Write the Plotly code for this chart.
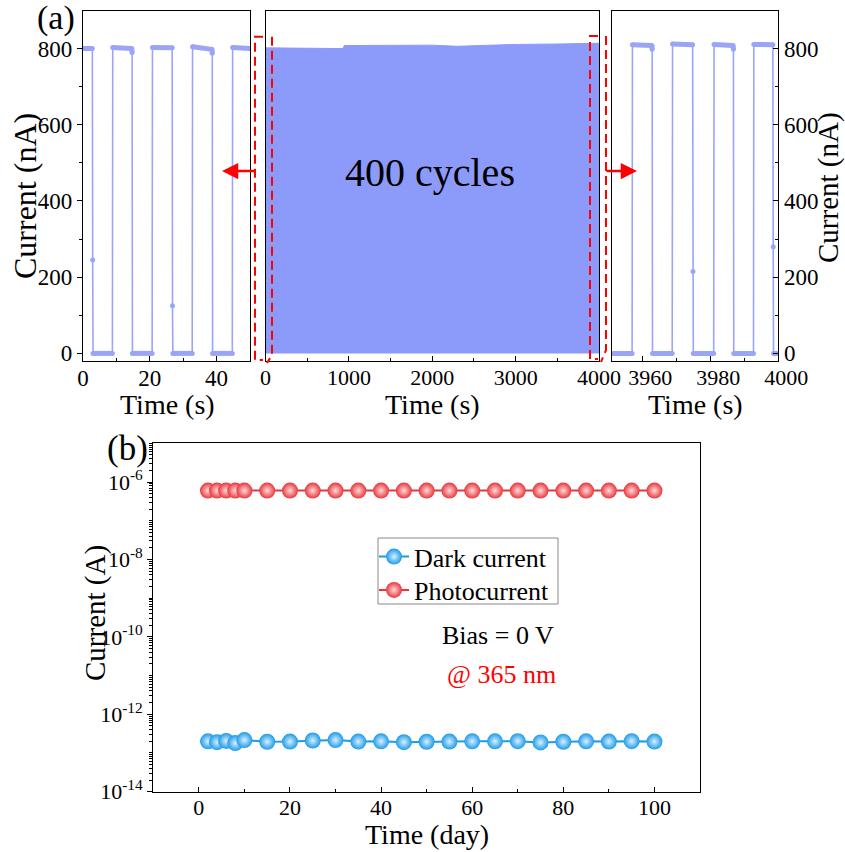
import plotly.graph_objects as go

# ---------------- data ----------------
# (a) left panel: first cycles
t_start = [0, 2.8, 2.9, 3.0, 8.8, 8.9, 14.6, 14.7, 14.8, 20.7, 20.8, 26.7, 26.8, 26.9,
           32.7, 32.8, 38.6, 38.7, 38.8, 44.7, 44.8, 50]
i_start = [800, 800, 245, 0, 0, 803, 800, 790, 0, 0, 803, 802, 125, 0,
           0, 805, 798, 788, 0, 0, 803, 800]

# (a) middle panel: envelope of 400 cycles
t_all = [0, 930, 945, 1500, 2000, 2300, 2600, 3000, 3500, 4000]
i_all = [802, 800, 808, 808, 809, 806, 808, 811, 812, 814]

# (a) right panel: last cycles
t_end = [3951, 3957.0, 3957.1, 3962.8, 3962.9, 3963.0, 3968.8, 3968.9, 3974.8, 3974.9, 3975.0,
         3981.0, 3981.1, 3986.7, 3986.8, 3986.9, 3992.7, 3992.8, 3998.4, 3998.5, 3998.6, 4000]
i_end = [0, 0, 810, 808, 798, 0, 0, 812, 810, 215, 0,
         0, 811, 808, 798, 0, 0, 811, 810, 280, 0, 0]

# (b) stability over days
days = [2, 4, 6, 8, 10, 15, 20, 25, 30, 35, 40, 45, 50, 55, 60, 65, 70, 75, 80, 85, 90, 95, 100]
dark = [2.0e-13, 1.9e-13, 2.05e-13, 1.8e-13, 2.15e-13, 1.95e-13, 1.97e-13, 2.1e-13, 2.15e-13,
        1.97e-13, 2.0e-13, 1.9e-13, 1.95e-13, 1.97e-13, 2.0e-13, 2.0e-13, 2.02e-13, 1.88e-13,
        1.95e-13, 2.0e-13, 1.97e-13, 2.02e-13, 1.97e-13]
photo = [6.0e-7] * len(days)
log_tickvals = [1e-14, 1e-12, 1e-10, 1e-8, 1e-6]
log_ticktext = ["10<sup>-14</sup>", "10<sup>-12</sup>", "10<sup>-10</sup>", "10<sup>-8</sup>", "10<sup>-6</sup>"]

# ---------------- style ----------------
W, H = 845, 852
FONT = "Liberation Serif, Times New Roman, serif"
LINE_C = "#9AA5F6"
FILL_C = "#8C9BFA"
RED = "#E8373C"
BLUE = "#1D9BE8"


def px(x):
    return x / W


def py(y):
    return 1 - y / H


def plateaus(t, v):
    xs, ys = [], []
    for k in range(len(t) - 1):
        if abs(v[k] - v[k + 1]) < 15:
            xs += [t[k], t[k + 1], None]
            ys += [v[k], v[k + 1], None]
    return xs, ys


fig = go.Figure()

# left panel
pxs, pys = plateaus(t_start, i_start)
fig.add_trace(go.Scatter(x=t_start, y=i_start, mode="lines+markers", xaxis="x", yaxis="y",
                         line=dict(color=LINE_C, width=1.6), marker=dict(size=5, color=LINE_C),
                         showlegend=False))
fig.add_trace(go.Scatter(x=pxs, y=pys, mode="lines", xaxis="x", yaxis="y",
                         line=dict(color=LINE_C, width=5), showlegend=False, hoverinfo="skip"))

# middle panel
fig.add_trace(go.Scatter(x=t_all, y=i_all, mode="lines", fill="tozeroy", xaxis="x2", yaxis="y2",
                         line=dict(color=FILL_C, width=1), fillcolor=FILL_C, showlegend=False))

# right panel
pxs, pys = plateaus(t_end, i_end)
fig.add_trace(go.Scatter(x=t_end, y=i_end, mode="lines+markers", xaxis="x3", yaxis="y3",
                         line=dict(color=LINE_C, width=1.6), marker=dict(size=5, color=LINE_C),
                         showlegend=False))
fig.add_trace(go.Scatter(x=pxs, y=pys, mode="lines", xaxis="x3", yaxis="y3",
                         line=dict(color=LINE_C, width=5), showlegend=False, hoverinfo="skip"))

# bottom panel
fig.add_trace(go.Scatter(x=days, y=dark, mode="lines+markers", name="Dark current", xaxis="x4", yaxis="y4",
                         legend="legend",
                         line=dict(color=BLUE, width=2),
                         marker=dict(size=16, color=BLUE, line=dict(width=0),
                                     gradient=dict(type="radial", color="#D8F0FF"))))
fig.add_trace(go.Scatter(x=days, y=photo, mode="lines+markers", name="Photocurrent", xaxis="x4", yaxis="y4",
                         legend="legend2",
                         line=dict(color=RED, width=2),
                         marker=dict(size=16, color=RED, line=dict(width=0),
                                     gradient=dict(type="radial", color="#FFDADA"))))

TICKSZ = 23
axis_common = dict(showline=True, linecolor="black", linewidth=1.3, mirror=True, showgrid=False,
                   zeroline=False, automargin=False, tickcolor="black", ticklen=5, tickwidth=1.2,
                   tickfont=dict(family=FONT, size=TICKSZ, color="black"))
xt_common = dict(ticks="inside", ticklabelstandoff=-4)

ydom_top = [py(361), py(10.5)]
lin_minor = dict(ticks="outside", ticklen=3, tickcolor="black", tickwidth=1)
in_minor = dict(ticks="inside", ticklen=3, tickcolor="black", tickwidth=1)
leg_common = dict(xanchor="left", yanchor="middle", borderwidth=0, bgcolor="rgba(0,0,0,0)",
                  font=dict(family=FONT, size=26, color="black"), itemwidth=30)

fig.update_layout(
    width=W, height=H, margin=dict(l=0, r=0, t=0, b=0),
    paper_bgcolor="white", plot_bgcolor="white",
    font=dict(family=FONT, color="black"),
    xaxis=dict(axis_common, **xt_common, domain=[px(83), px(250)], range=[0, 50], anchor="y",
               tickvals=[0, 20, 40],
               minor=dict(in_minor, tickvals=[10, 30, 50])),
    yaxis=dict(axis_common, domain=ydom_top, range=[-20, 900], anchor="x",
               tickvals=[0, 200, 400, 600, 800], ticks="outside",
               minor=dict(lin_minor, tickvals=[100, 300, 500, 700])),
    xaxis2=dict(axis_common, **xt_common, domain=[px(265.5), px(599)], range=[0, 4000], anchor="y2",
                tickvals=[0, 1000, 2000, 3000, 4000],
                tickfont=dict(family=FONT, size=22, color="black"),
                minor=dict(in_minor, tickvals=[500, 1500, 2500, 3500])),
    yaxis2=dict(axis_common, domain=ydom_top, range=[-20, 900], anchor="x2",
                showticklabels=False, ticks=""),
    xaxis3=dict(axis_common, **xt_common, domain=[px(611.7), px(778.3)], range=[3951, 4000], anchor="y3",
                tickvals=[3960, 3980, 4000], ticklabelshift=8,
                tickfont=dict(family=FONT, size=22, color="black"),
                minor=dict(in_minor, tickvals=[3970, 3990])),
    yaxis3=dict(axis_common, domain=ydom_top, range=[-20, 900], anchor="x3", side="right",
                tickvals=[0, 200, 400, 600, 800], ticks="inside",
                minor=dict(in_minor, tickvals=[100, 300, 500, 700])),
    xaxis4=dict(axis_common, **xt_common, domain=[px(153.3), px(700)], range=[-10, 110], anchor="y4",
                tickvals=[0, 20, 40, 60, 80, 100],
                tickfont=dict(family=FONT, size=22, color="black"),
                minor=dict(in_minor, tickvals=[10, 30, 50, 70, 90])),
    yaxis4=dict(axis_common, domain=[py(791.7), py(443.3)], type="log", range=[-14, -5], anchor="x4",
                tickvals=log_tickvals, ticktext=log_ticktext, ticks="outside",
                tickfont=dict(family=FONT, size=22, color="black"),
                minor=dict(lin_minor, tickvals=[m * 10.0 ** e for e in range(-14, -5) for m in range(2, 10)]
                           + [10.0 ** e for e in (-13, -11, -9, -7, -5)])),
    legend=dict(leg_common, x=px(374), y=py(556.7)),
    legend2=dict(leg_common, x=px(374), y=py(590)),
)

# red dashed zoom markers + legend frame
dash = dict(color="red", width=2, dash="9px,5px")
shapes = [
    dict(type="path", path=f"M {px(263)},{py(36.7)} L {px(255)},{py(36.7)} L {px(255)},{py(360)} L {px(263)},{py(360)}", line=dash),
    dict(type="path", path=f"M {px(272)},{py(36.7)} L {px(272)},{py(355)} L {px(267)},{py(363)}", line=dash),
    dict(type="path", path=f"M {px(598)},{py(36)} L {px(590)},{py(36)} L {px(590)},{py(359)} L {px(598)},{py(359)}", line=dash),
    dict(type="path", path=f"M {px(606)},{py(36)} L {px(606)},{py(350)} L {px(601)},{py(362)}", line=dash),
    dict(type="rect", x0=px(378), x1=px(558), y0=py(538), y1=py(604),
         line=dict(color="#8A8A8A", width=1), fillcolor="white", layer="below"),
]
for s in shapes:
    s.update(xref="paper", yref="paper")
fig.update_layout(shapes=shapes)

ann = [
    dict(x=px(222), y=py(171), ax=35, ay=0, showarrow=True, arrowhead=2, arrowsize=1.3,
         arrowwidth=2.5, arrowcolor="red", text=""),
    dict(x=px(637), y=py(171), ax=-32, ay=0, showarrow=True, arrowhead=2, arrowsize=1.3,
         arrowwidth=2.5, arrowcolor="red", text=""),
    dict(x=px(430), y=py(172), text="400 cycles", showarrow=False, font=dict(size=40, family=FONT)),
    dict(x=px(56), y=py(18), text="(a)", showarrow=False, font=dict(size=34, family=FONT)),
    dict(x=px(127), y=py(448), text="(b)", showarrow=False, font=dict(size=35, family=FONT)),
    dict(x=px(498), y=py(635), text="Bias = 0 V", showarrow=False, font=dict(size=26, family=FONT)),
    dict(x=px(502), y=py(674), text="@ 365 nm", showarrow=False, font=dict(size=26, family=FONT, color="red")),
    # axis titles
    dict(x=px(167), y=py(405), text="Time (s)", showarrow=False, font=dict(size=28, family=FONT)),
    dict(x=px(432), y=py(405), text="Time (s)", showarrow=False, font=dict(size=28, family=FONT)),
    dict(x=px(695), y=py(405), text="Time (s)", showarrow=False, font=dict(size=28, family=FONT)),
    dict(x=px(427), y=py(834), text="Time (day)", showarrow=False, font=dict(size=28, family=FONT)),
    dict(x=px(25), y=py(196), text="Current (nA)", textangle=-90, showarrow=False, font=dict(size=32, family=FONT)),
    dict(x=px(829), y=py(188), text="Current (nA)", textangle=-90, showarrow=False, font=dict(size=29, family=FONT)),
    dict(x=px(95), y=py(613), text="Current (A)", textangle=-90, showarrow=False, font=dict(size=29, family=FONT)),
]
for a in ann:
    a.update(xref="paper", yref="paper", xanchor="center", yanchor="middle")
fig.update_layout(annotations=ann)

fig.write_html("out.html", config={"displayModeBar": False},
               post_script="document.body.style.margin='0';document.body.style.padding='0';")
